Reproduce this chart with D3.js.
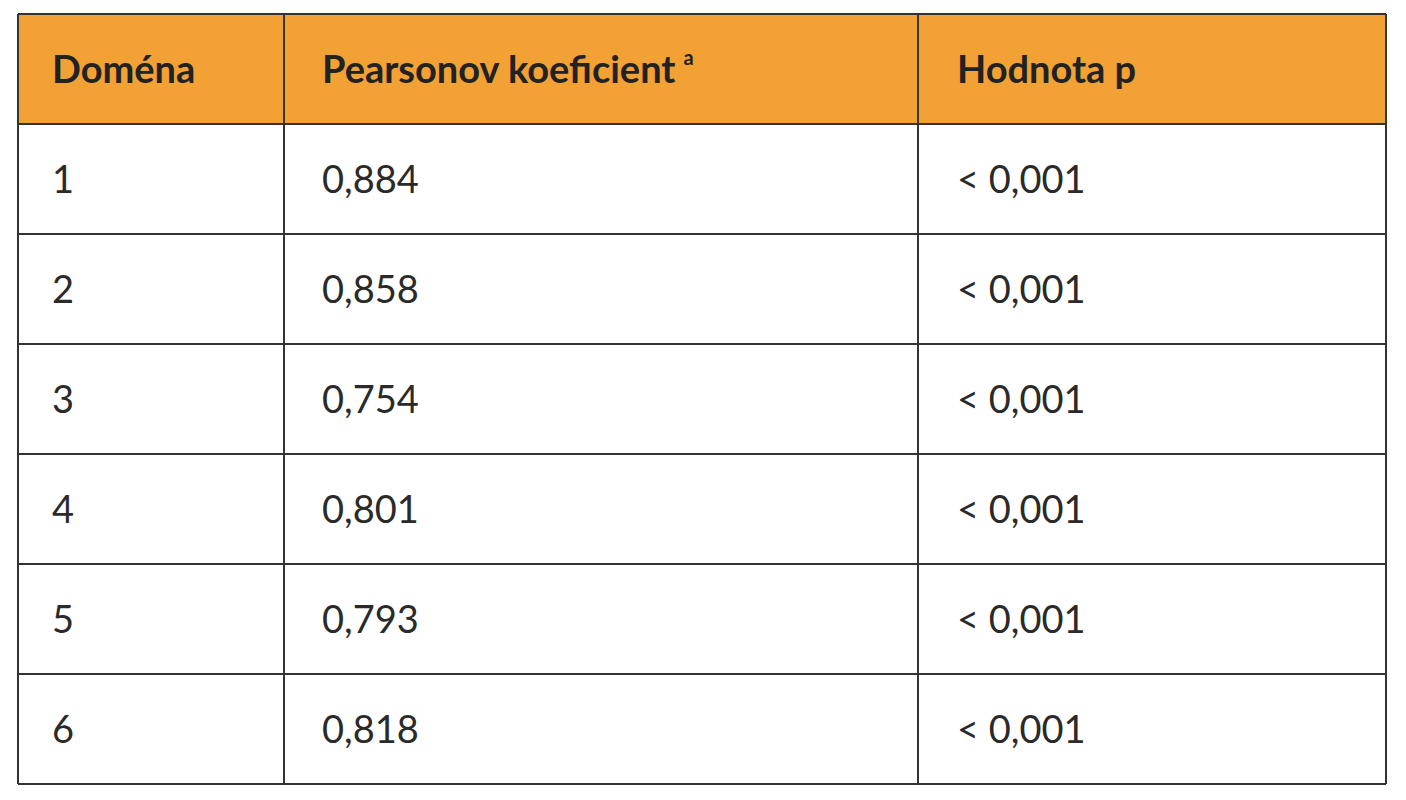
<!DOCTYPE html>
<html><head><meta charset="utf-8">
<script src="https://cdn.jsdelivr.net/npm/d3@7"></script>
<style>body{margin:0;background:#fff}</style>
</head><body>
<script>
const headers = ["Doména", "Pearsonov koeficient", "Hodnota p"];
const domains = ["1","2","3","4","5","6"];
const pearson = ["0,884","0,858","0,754","0,801","0,793","0,818"];
const pvalues = ["< 0,001","< 0,001","< 0,001","< 0,001","< 0,001","< 0,001"];

(function(){
const W=1406,H=800;
const svg=d3.select("body").append("svg").attr("width",W).attr("height",H);
const x0=18,x1=1386,y0=14,y1=784;
const colEdges=[x0,284,918,x1];
const y=d3.scaleBand().domain(d3.range(domains.length+1)).range([y0,y1]);
const font="Lato, 'Open Sans', sans-serif";
const txt="#2a2a2a";

svg.append("rect").attr("x",x0).attr("y",y0).attr("width",x1-x0).attr("height",y.bandwidth()).attr("fill","#F2A134");

const rows=domains.map((d,i)=>[d,pearson[i],pvalues[i]]);
const textX=[52,322,957];

headers.forEach((h,j)=>{
  const t=svg.append("text").attr("x",textX[j]).attr("y",y(0)+y.bandwidth()/2).attr("dy","0.36em")
    .attr("font-family",font).attr("font-weight",700).attr("font-size",38).attr("fill","#222").text(h);
  if(j===1) t.append("tspan").attr("font-size",20).attr("dy","-0.9em").attr("dx","8").text("a");
});
rows.forEach((r,i)=>{
  r.forEach((v,j)=>{
    svg.append("text").attr("x",textX[j]).attr("y",y(i+1)+y.bandwidth()/2).attr("dy","0.36em")
      .attr("font-family",font).attr("font-size",38).attr("fill",txt).text(v);
  });
});
const g=svg.append("g").attr("stroke","#333").attr("stroke-width",2);
d3.range(domains.length+2).forEach(k=>{
  const yy=k<=domains.length?y(k):y1;
  g.append("line").attr("x1",x0).attr("x2",x1).attr("y1",yy).attr("y2",yy);
});
colEdges.forEach(x=>g.append("line").attr("x1",x).attr("x2",x).attr("y1",y0).attr("y2",y1));
})();
</script>
</body></html>
